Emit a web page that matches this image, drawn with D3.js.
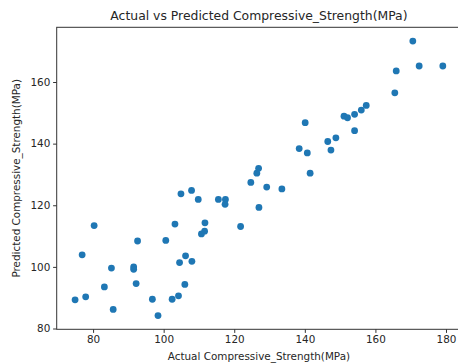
<!DOCTYPE html>
<html>
<head>
<meta charset="utf-8">
<script src="https://cdn.jsdelivr.net/npm/d3@7"></script>
<style>
  body { margin: 0; background: #fff; }
  text { font-family: "DejaVu Sans", sans-serif; fill: #262626; }
  .tick line { stroke: #333; }
  .domain { stroke: #333; }
</style>
</head>
<body>
<div id="chart"></div>
<script>
// actual vs predicted compressive strength (MPa)
var actual = [74.9, 77.9, 76.9, 80.3, 83.2, 85.2, 85.7, 91.5, 91.5, 92.2,
    92.6, 96.8, 98.4, 100.6, 102.4, 104.2, 103.2, 104.5, 106.2, 108.0,
    106.0, 104.9, 107.9, 109.8, 111.7, 111.6, 110.7, 115.5, 117.5, 117.4,
    121.8, 124.7, 126.4, 126.9, 127.0, 129.2, 133.5, 138.4, 140.1, 140.7,
    141.5, 146.5, 147.4, 148.8, 151.1, 152.1, 154.1, 154.1, 156.0, 157.4,
    165.5, 165.9, 170.6, 172.4, 179.1];
var predicted = [89.3, 90.3, 103.9, 113.4, 93.5, 99.6, 86.2, 100.0, 99.2, 94.6,
    108.4, 89.5, 84.2, 108.6, 89.5, 90.6, 113.9, 101.4, 103.6, 101.8,
    94.3, 123.7, 124.8, 121.9, 114.3, 111.6, 110.7, 121.9, 121.9, 120.3,
    113.1, 127.4, 130.4, 132.0, 119.3, 125.9, 125.3, 138.4, 146.8, 137.0,
    130.4, 140.7, 137.9, 141.9, 148.9, 148.4, 149.5, 144.2, 150.9, 152.4,
    156.5, 163.6, 173.3, 165.2, 165.2];
var xTicks = [80, 100, 120, 140, 160, 180];
var yTicks = [80, 100, 120, 140, 160];

var titleText = "Actual vs Predicted Compressive_Strength(MPa)";
var xLabel = "Actual Compressive_Strength(MPa)";
var yLabel = "Predicted Compressive_Strength(MPa)";

var W = 458, H = 363;
var plot = { left: 56.7, right: 461.2, top: 27.3, bottom: 329.3 };

var points = actual.map(function(a, i) {
    return { x: a, y: predicted[i] };
});

// matplotlib style 5% margins
function padded(ext) {
    var m = (ext[1] - ext[0]) * 0.05;
    return [ext[0] - m, ext[1] + m];
}

var x = d3.scaleLinear()
    .domain(padded(d3.extent(actual)))
    .range([plot.left, plot.right]);

var y = d3.scaleLinear()
    .domain(padded(d3.extent(predicted)))
    .range([plot.bottom, plot.top]);

var svg = d3.select("#chart").append("svg")
    .attr("width", W)
    .attr("height", H);

// frame
svg.append("rect")
    .attr("x", plot.left)
    .attr("y", plot.top)
    .attr("width", plot.right - plot.left)
    .attr("height", plot.bottom - plot.top)
    .attr("fill", "none")
    .attr("stroke", "#333")
    .attr("stroke-width", 1);

var xAxis = d3.axisBottom(x)
    .tickValues(xTicks)
    .tickSize(3.6)
    .tickPadding(2.8)
    .tickSizeOuter(0);

var yAxis = d3.axisLeft(y)
    .tickValues(yTicks)
    .tickSize(3.6)
    .tickPadding(2.8)
    .tickSizeOuter(0);

var gx = svg.append("g")
    .attr("transform", "translate(0," + plot.bottom + ")")
    .call(xAxis);
gx.select(".domain").remove();
gx.selectAll("text").attr("font-size", "10.4px").style("font-family", "DejaVu Sans");

var gy = svg.append("g")
    .attr("transform", "translate(" + plot.left + ",0)")
    .call(yAxis);
gy.select(".domain").remove();
gy.selectAll("text").attr("font-size", "10.4px").style("font-family", "DejaVu Sans");

svg.append("g")
    .selectAll("circle")
    .data(points)
    .enter().append("circle")
    .attr("cx", function(d) { return x(d.x); })
    .attr("cy", function(d) { return y(d.y); })
    .attr("r", 3.4)
    .attr("fill", "#1f77b4");

svg.append("text")
    .attr("x", (plot.left + plot.right) / 2)
    .attr("y", 19.5)
    .attr("text-anchor", "middle")
    .attr("font-size", "12.4px")
    .text(titleText);

svg.append("text")
    .attr("x", (plot.left + plot.right) / 2)
    .attr("y", 360)
    .attr("text-anchor", "middle")
    .attr("font-size", "10.4px")
    .text(xLabel);

svg.append("text")
    .attr("transform", "translate(20," + ((plot.top + plot.bottom) / 2) + ") rotate(-90)")
    .attr("text-anchor", "middle")
    .attr("font-size", "10.4px")
    .text(yLabel);
</script>
</body>
</html>
